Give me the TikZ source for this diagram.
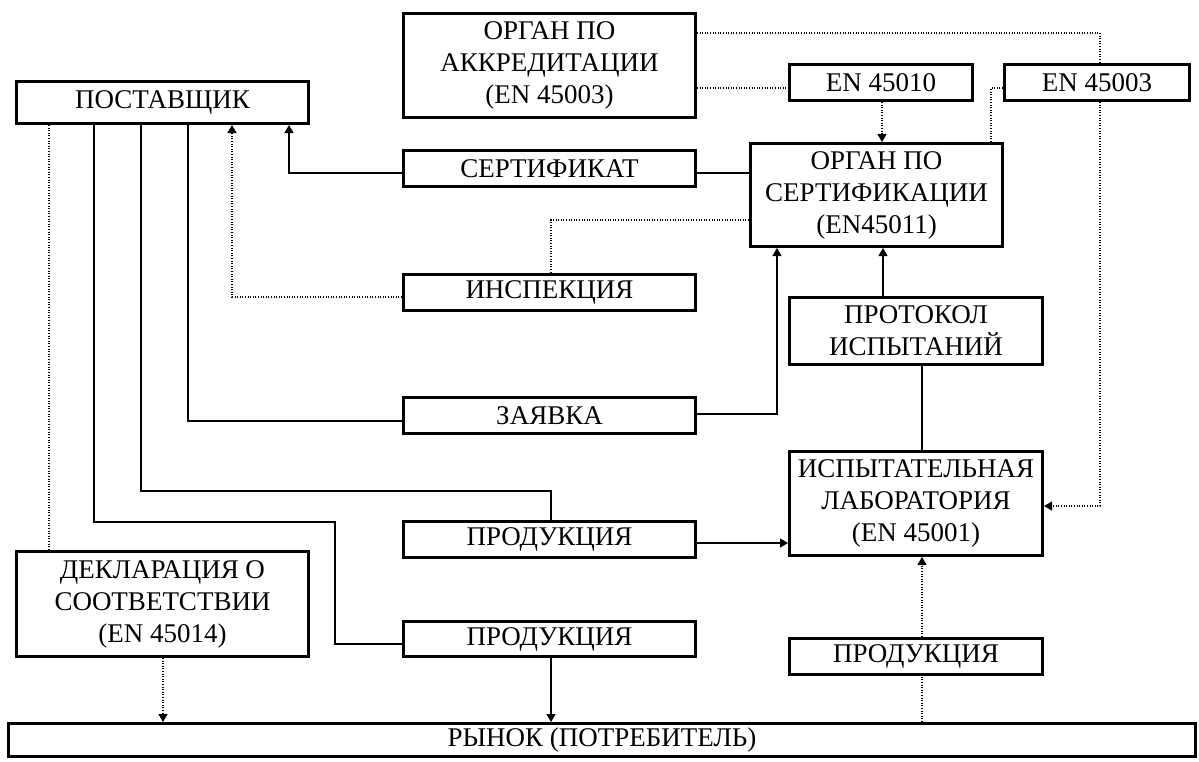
\documentclass[tikz,border=0pt]{standalone}
\usepackage{fontspec}
\setmainfont{Liberation Serif}
\usetikzlibrary{arrows.meta}
\tikzset{
  box/.style={draw, line width=3pt, inner sep=0pt, align=center,
    font=\fontsize{27}{32}\selectfont, fill=white},
  conn/.style={line width=1.3pt},
  dotline/.style={line width=1.2pt, dash pattern=on 1pt off 1.6pt},
  tip/.style={-{Triangle[width=9pt,length=8pt]}},
}
\begin{document}
\begin{tikzpicture}[x=1pt,y=-1pt]
\useasboundingbox (0,0) rectangle (1199,761);
% boxes
\node[box, minimum width=292pt, minimum height=104pt] (akk) at (549.5,65.5) {ОРГАН ПО\\АККРЕДИТАЦИИ\\(EN 45003)};
\node[box, minimum width=292pt, minimum height=42pt] (post) at (162.5,102.5) {ПОСТАВЩИК};
\node[box, minimum width=183pt, minimum height=36pt] (en10) at (881,82.5) {EN 45010};
\node[box, minimum width=185pt, minimum height=36pt] (en03) at (1097,82.5) {EN 45003};
\node[box, minimum width=292pt, minimum height=36pt] (sert) at (549.5,168.5) {СЕРТИФИКАТ};
\node[box, minimum width=252pt, minimum height=103pt] (os) at (876.5,195) {ОРГАН ПО\\СЕРТИФИКАЦИИ\\(EN45011)};
\node[box, minimum width=292pt, minimum height=36pt] (insp) at (549.5,292.5) {ИНСПЕКЦИЯ};
\node[box, minimum width=253pt, minimum height=67pt] (prot) at (916,331) {ПРОТОКОЛ\\ИСПЫТАНИЙ};
\node[box, minimum width=292pt, minimum height=36pt] (zayav) at (549.5,415.5) {ЗАЯВКА};
\node[box, minimum width=253pt, minimum height=104pt] (lab) at (916,503.5) {ИСПЫТАТЕЛЬНАЯ\\ЛАБОРАТОРИЯ\\(EN 45001)};
\node[box, minimum width=292pt, minimum height=36pt] (prodA) at (549.5,539.5) {ПРОДУКЦИЯ};
\node[box, minimum width=292pt, minimum height=105pt] (decl) at (162.5,604) {ДЕКЛАРАЦИЯ О\\СООТВЕТСТВИИ\\(EN 45014)};
\node[box, minimum width=292pt, minimum height=35pt] (prodB) at (549.5,639) {ПРОДУКЦИЯ};
\node[box, minimum width=253pt, minimum height=36pt] (prodC) at (916,656.5) {ПРОДУКЦИЯ};
\node[box, minimum width=1187pt, minimum height=33pt] (market) at (602,740) {РЫНОК (ПОТРЕБИТЕЛЬ)};
% connectors from supplier
\draw[dotline] (49,0 |- post.south) -- (49,0 |- decl.north);
\draw[conn] (94,0 |- post.south) -- (94,522) -- (335,522) -- (335,644) -- (prodB.west |- 0,644);
\draw[conn] (141,0 |- post.south) -- (141,491) -- (551,491) -- (551,0 |- prodA.north);
\draw[conn] (188,0 |- post.south) -- (188,421) -- (zayav.west |- 0,421);
\draw[dotline, tip] (insp.west |- 0,297) -- (232,297) -- (232,0 |- post.south);
\draw[conn, tip] (sert.west |- 0,173) -- (289,173) -- (289,0 |- post.south);
% certification body
\draw[conn] (sert.east |- 0,173) -- (os.west |- 0,173);
\draw[dotline] (os.west |- 0,220) -- (551,220) -- (551,0 |- insp.north);
\draw[conn, tip] (zayav.east |- 0,414) -- (777,414) -- (777,0 |- os.south);
\draw[conn, tip] (883,0 |- prot.north) -- (883,0 |- os.south);
\draw[conn] (922,0 |- prot.south) -- (922,0 |- lab.north);
\draw[conn, tip] (prodA.east |- 0,543) -- (lab.west |- 0,543);
\draw[conn, tip] (551,0 |- prodB.south) -- (551,0 |- market.north);
\draw[dotline, tip] (163,0 |- decl.south) -- (163,0 |- market.north);
\draw[dotline, tip] (922,0 |- prodC.north) -- (922,0 |- lab.south);
\draw[dotline] (922,0 |- market.north) -- (922,0 |- prodC.south);
% accreditation
\draw[dotline] (akk.east |- 0,88) -- (en10.west |- 0,88);
\draw[dotline] (akk.east |- 0,33) -- (1100,33) -- (1100,0 |- en03.north);
\draw[dotline, tip] (1100,0 |- en03.south) -- (1100,506) -- (lab.east |- 0,506);
\draw[dotline, tip] (882,0 |- en10.south) -- (882,0 |- os.north);
\draw[dotline] (en03.west |- 0,88) -- (991,88) -- (991,0 |- os.north);
\end{tikzpicture}
\end{document}
